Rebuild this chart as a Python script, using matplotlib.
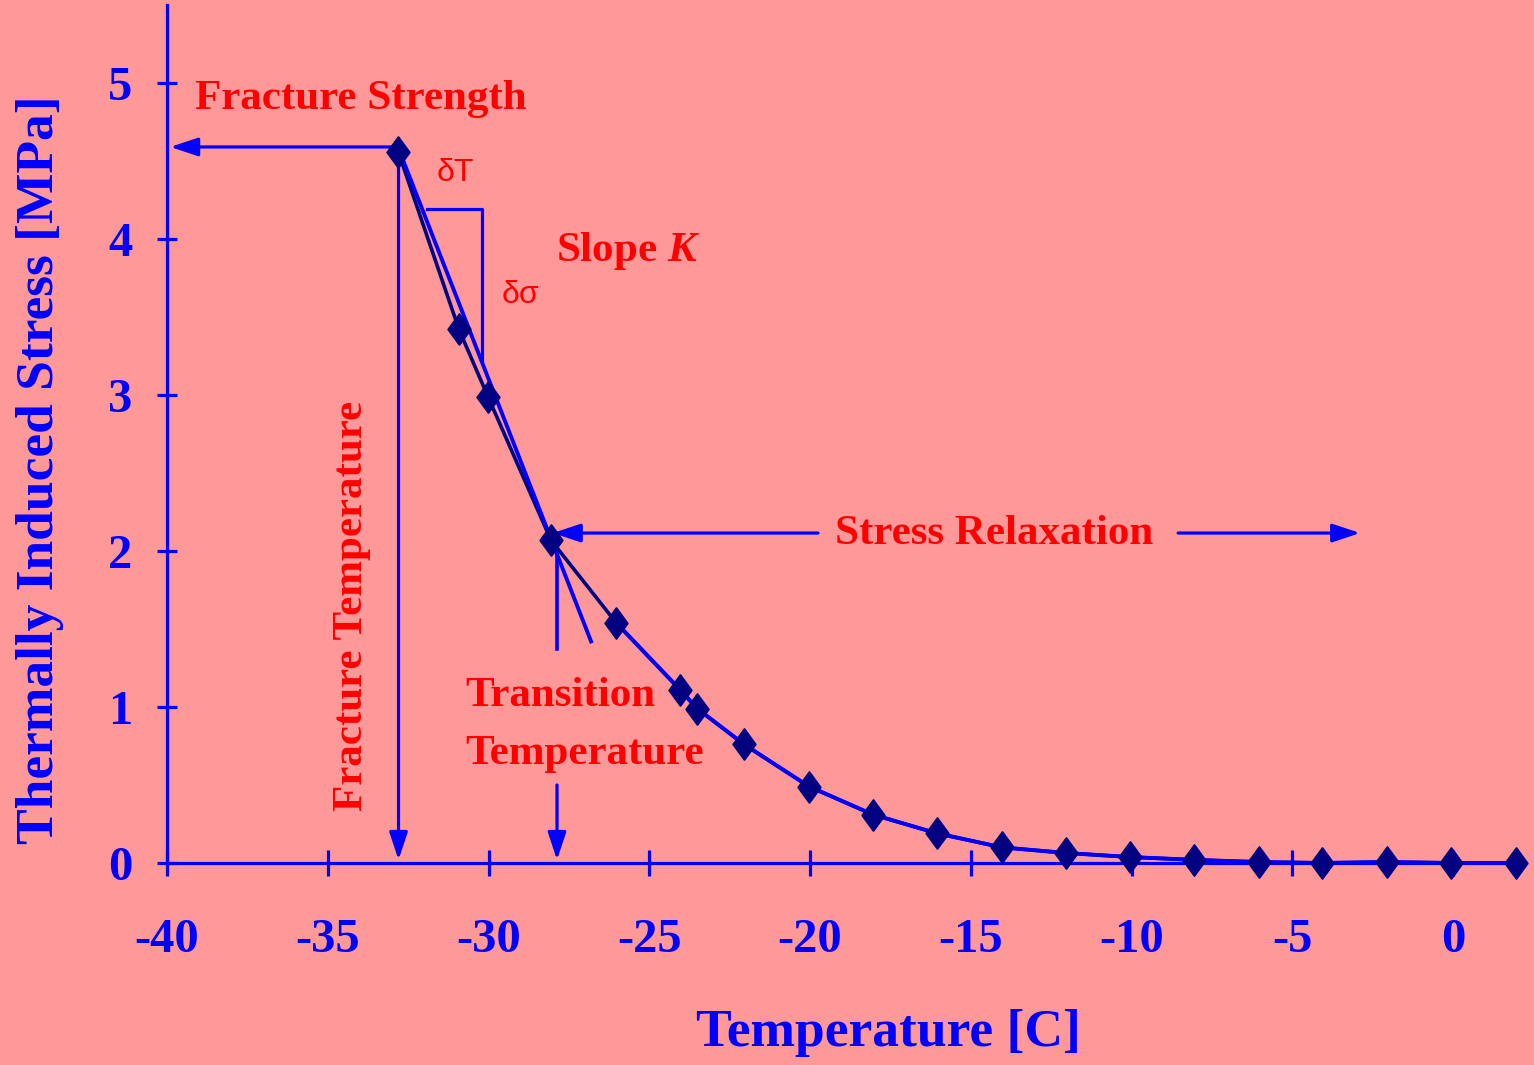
import matplotlib
matplotlib.use('Agg')
import matplotlib.pyplot as plt
from matplotlib.path import Path

# measured stress vs temperature
temp = [-32.81, -30.92, -30.02, -28.06, -26.03, -24.04, -23.51, -22.05, -20.03,
        -18.04, -16.05, -14.03, -12.04, -10.05, -8.06, -6.03, -4.07, -2.05, -0.06, 1.96]
stress = [4.56, 3.42, 2.99, 2.07, 1.54, 1.11, 0.99, 0.76, 0.49,
          0.31, 0.19, 0.10, 0.064, 0.038, 0.02, 0.006, 0.0, 0.006, 0.0, 0.0]

# tangent (slope K) through fracture point and transition
tangent_t = [-32.8, -26.81]
tangent_s = [4.58, 1.42]

fracture_t = -32.8
fracture_s = 4.59
transition_t = -27.87

xticks = [-40, -35, -30, -25, -20, -15, -10, -5, 0]
yticks = [0, 1, 2, 3, 4, 5]

BG = '#FF9999'
BLUE = '#0000FF'
NAVY = '#000080'
RED = '#FF0000'
SERIF = ['Liberation Serif', 'DejaVu Serif']
SANS = ['Liberation Sans', 'DejaVu Sans']

plt.rcParams['font.family'] = SERIF
plt.rcParams['font.weight'] = 'bold'
plt.rcParams['axes.unicode_minus'] = False
plt.rcParams['mathtext.fontset'] = 'custom'
plt.rcParams['mathtext.it'] = 'Liberation Serif:italic:bold'
plt.rcParams['mathtext.bfit'] = 'Liberation Serif:italic:bold'

fig = plt.figure(figsize=(15.34, 10.65), dpi=100, facecolor=BG)
ax = fig.add_axes([0.1089, 0.1897, 0.8802, 0.8056])
ax.set_facecolor(BG)

ax.set_xlim(-40, 2)
ax.set_ylim(0, 5.5)

for s in ['top', 'right']:
    ax.spines[s].set_visible(False)
for s in ['left', 'bottom']:
    ax.spines[s].set_color(BLUE)
    ax.spines[s].set_linewidth(2.3)

ax.set_xticks(xticks)
ax.set_yticks(yticks)
ax.tick_params(axis='x', direction='inout', length=19, width=2.3, color=BLUE,
               labelcolor=BLUE, labelsize=35, pad=30)
ax.tick_params(axis='y', direction='inout', length=14, width=2.3, color=BLUE,
               labelcolor=BLUE, labelsize=35, pad=18)
ax.xaxis.get_major_ticks()[7].tick1line.set_color('black')
ax.yaxis.get_major_ticks()[0].tick1line.set_color('black')

ax.set_xlabel('Temperature [C]', fontsize=38.5, color=BLUE, fontweight='bold', labelpad=34)
ax.set_ylabel('Thermally Induced Stress [MPa]', fontsize=38.5, color=BLUE,
              fontweight='bold', labelpad=32)
ax.xaxis.label.set_x(0.534)
ax.yaxis.label.set_y(0.458)

# slightly elongated diamond
diamond = Path([(0, 1), (0.73, 0), (0, -1), (-0.73, 0), (0, 1)],
               [Path.MOVETO, Path.LINETO, Path.LINETO, Path.LINETO, Path.CLOSEPOLY])

ax.plot(temp, stress, color=NAVY, lw=2.6, zorder=3, clip_on=False)
ax.plot(temp[4:], stress[4:], color=BLUE, lw=2.8, zorder=4, clip_on=False)
ax.plot(tangent_t, tangent_s, color=BLUE, lw=2.8, zorder=4)
ax.plot(temp, stress, ls='none', marker=diamond, ms=22, color=NAVY,
        mec=NAVY, mew=1.5, zorder=5, clip_on=False)

# dT / dsigma triangle
ax.plot([-31.91, -30.2, -30.2], [4.19, 4.19, 3.22], color=BLUE, lw=2.3, zorder=2)
# transition marker
ax.plot([transition_t, transition_t], [2.05, 1.37], color=BLUE, lw=2.6, zorder=2)

arrow = dict(arrowstyle='-|>,head_length=1.2,head_width=0.4', mutation_scale=14,
             color=BLUE, lw=2.3, shrinkA=0, shrinkB=0)
ax.annotate('', xy=(-39.9, fracture_s), xytext=(fracture_t, fracture_s), arrowprops=arrow)
ax.annotate('', xy=(fracture_t, 0.02), xytext=(fracture_t, 4.55), arrowprops=arrow)
ax.annotate('', xy=(transition_t, 0.02), xytext=(transition_t, 0.5), arrowprops=arrow)
ax.annotate('', xy=(-28.0, 2.115), xytext=(-19.75, 2.115), arrowprops=arrow)
ax.annotate('', xy=(-2.89, 2.115), xytext=(-8.55, 2.115), arrowprops=arrow)

ax.text(-39.13, 4.90, 'Fracture Strength', color=RED, fontsize=31, va='center')
ax.text(-31.04, 4.42, 'δT', color=RED, fontsize=23, ha='center', va='center',
        family=SANS, fontweight='normal')
ax.text(-29.02, 3.64, 'δσ', color=RED, fontsize=23, ha='center', va='center',
        family=SANS, fontweight='normal')
ax.text(-27.9, 3.92, r'Slope $K$', color=RED, fontsize=31, va='center')
ax.text(-34.25, 1.65, 'Fracture Temperature', color=RED, fontsize=31,
        rotation=90, ha='center', va='center')
ax.text(-30.73, 1.07, 'Transition', color=RED, fontsize=31, va='center')
ax.text(-30.73, 0.70, 'Temperature', color=RED, fontsize=31, va='center')
ax.text(-19.22, 2.11, 'Stress Relaxation', color=RED, fontsize=31, va='center')

fig.savefig('out.png', dpi=100, facecolor=BG)
